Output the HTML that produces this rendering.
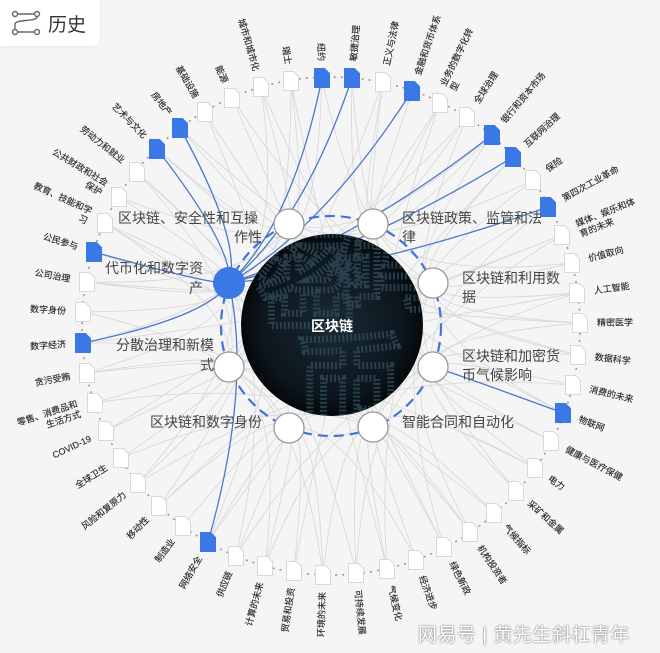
<!DOCTYPE html>
<html><head><meta charset="utf-8">
<style>
html,body{margin:0;padding:0;background:#f5f5f6;}
body{width:660px;height:653px;overflow:hidden;position:relative;font-family:"Liberation Sans","Noto Sans CJK SC",sans-serif;}
#hdr{position:absolute;left:0;top:0;width:100px;height:46px;background:#fff;border-radius:0 0 8px 0;box-shadow:0 1px 3px rgba(0,0,0,.06);}
#hdr span{position:absolute;left:48px;top:10px;font-size:19px;color:#333;}
#wm{position:absolute;left:418px;top:620px;font-size:19px;color:#fff;text-shadow:0 0 2px #888,0 0 1px #666;letter-spacing:0.5px;}
</style></head><body>
<svg id="s" width="660" height="653" style="position:absolute;left:0;top:0">
<defs>
<radialGradient id="dg" cx="50%" cy="50%" r="50%">
<stop offset="0" stop-color="#1a2a35"/><stop offset="0.8" stop-color="#0c151c"/><stop offset="1" stop-color="#04080a"/>
</radialGradient>
<clipPath id="cp"><circle cx="332" cy="325" r="91"/></clipPath>
</defs>
<g id="edges"></g>
<circle cx="331" cy="326" r="249" fill="none" stroke="#999" stroke-width="1.6" stroke-dasharray="2 5"/>
<g id="docs"></g>
<g id="labels" font-size="9" fill="#2a2a2a" stroke="#2a2a2a" stroke-width="0.15"></g>
<circle cx="332" cy="325" r="91" fill="url(#dg)"/>
<g clip-path="url(#cp)" fill="none" stroke="#34505f" stroke-width="7" stroke-dasharray="2 2" opacity="0.7" font-size="110" font-weight="bold">
<text x="255" y="320">密</text><text x="335" y="300">码</text><text x="295" y="425">币</text>
</g>
<text x="332" y="331" fill="#fff" font-size="14" font-weight="bold" text-anchor="middle">区块链</text>
<circle cx="331" cy="326" r="110" fill="none" stroke="#3f74d8" stroke-width="2.2" stroke-dasharray="10 6"/>
<g id="nodes"></g>
<g font-size="14" fill="#444">
<text x="118" y="223">区块链、安全性和互操</text><text x="262" y="242" text-anchor="end">作性</text>
<text x="402" y="223">区块链政策、监管和法</text><text x="402" y="242">律</text>
<text x="462" y="283">区块链和利用数</text><text x="462" y="302">据</text>
<text x="462" y="361">区块链和加密货</text><text x="462" y="380">币气候影响</text>
<text x="402" y="427">智能合同和自动化</text>
<text x="262" y="427" text-anchor="end">区块链和数字身份</text>
<text x="214" y="350" text-anchor="end">分散治理和新模</text><text x="214" y="370" text-anchor="end">式</text>
<text x="203" y="273" text-anchor="end">代币化和数字资</text><text x="203" y="293" text-anchor="end">产</text>
</g>
</svg>
<div id="hdr">
<svg width="40" height="30" style="position:absolute;left:10px;top:9px" fill="none" stroke="#666" stroke-width="1.4">
<circle cx="5" cy="5" r="2.5"/><circle cx="27" cy="5" r="2.5"/><circle cx="5" cy="23" r="2.5"/><circle cx="27" cy="23" r="2.5"/>
<path d="M8 5h16M8 23h16M27 8c0 5-22 2-22 7v5"/>
</svg>
<span>历史</span>
</div>
<div id="wm">网易号 | 黄先生斜杠青年</div>
<script>
var C=[331,326];
var D=[
["纽约",322,78,1],["敏捷治理",352,78,1],["正义与法律",383,82],["金融和货币体系",412,91,1],["业务的数字化转\n型",440,103],["全球治理",467,117],["银行和资本市场",492,135,1],["互联网治理",513,157,1],["保险",533,180],["第四次工业革命",548,207,1],["媒体、娱乐和体\n育的未来",562,235],["价值取向",572,263],["人工智能",577,293],["精密医学",580,323],["数据科学",578,355],["消费的未来",573,385],["物联网",563,413,1],["健康与医疗保健",551,441],["电力",535,468],["采矿和金属",516,491],["气候指标",494,513],["机构投资者",470,532],["绿色新政",444,547],["经济进步",416,560],["气候变化",387,569],["可持续发展",356,573],["环境的未来",323,575],["贸易和投资",294,571],["计算的未来",265,566],["供应链",236,556],["网络安全",208,542,1],["制造业",183,526],["移动性",159,506],["风险和复原力",138,483],["全球卫生",121,458],["COVID-19",106,431],["零售、消费品和\n生活方式",95,403],["贪污受贿",87,373],["数字经济",83,343,1],["数字身份",83,312],["公司治理",87,282],["公民参与",94,252,1],["教育、技能和学\n习",105,223],["公共财政和社会\n保护",119,197],["劳动力和就业",137,172],["艺术与文化",157,149,1],["房地产",180,128,1],["基础设施",205,112],["能源",232,98],["城市和城市化",261,87],["瑞士",291,81]];
var N=[[289,224],[373,224],[433,283],[433,367],[373,427],[289,428],[229,367],[229,283]];
var NS="http://www.w3.org/2000/svg";
function el(t,a,p){var e=document.createElementNS(NS,t);for(var k in a)e.setAttribute(k,a[k]);p.appendChild(e);return e;}
var E=document.getElementById("edges"),DG=document.getElementById("docs"),L=document.getElementById("labels"),NG=document.getElementById("nodes");
function curve(a,b,col,w,k){var mx=(a[0]+b[0])/2,my=(a[1]+b[1])/2;var cx=mx+(C[0]-mx)*k,cy=my+(C[1]-my)*k;
el("path",{d:"M"+a[0]+" "+a[1]+"Q"+cx+" "+cy+" "+b[0]+" "+b[1],fill:"none",stroke:col,"stroke-width":w},E);}
D.forEach(function(d,i){
 var p=[d[1],d[2]];
 var best=0,bd=1e9;N.forEach(function(n,j){var q=(n[0]-p[0])*(n[0]-p[0])+(n[1]-p[1])*(n[1]-p[1]);if(q<bd){bd=q;best=j;}});
 var set={};set[best]=1;set[(i*3)%8]=1;set[(i*5+2)%8]=1;
 for(var j in set){if(d[3]&&j==7)continue;curve(p,N[j],"#d9d9db",0.9,0.45);}
});
D.forEach(function(d){if(d[3]){var t=(d[0]=="物联网")?N[3]:N[7];curve([d[1],d[2]],t,"#4a78cc",1.3,0.3);}});
D.forEach(function(d){
 var x=d[1],y=d[2];
 el("path",{d:"M"+(x-7.5)+" "+(y-9.5)+"h10l5 5v14h-15z",fill:d[3]?"#3a78e6":"#fff",stroke:d[3]?"#3a78e6":"#d8d8d8","stroke-width":1,"stroke-linejoin":"round"},DG);
 var dx=x-C[0],dy=y-C[1],r=Math.sqrt(dx*dx+dy*dy),ux=dx/r,uy=dy/r;
 var ang=Math.atan2(dy,dx)*180/Math.PI;
 var lx=x+ux*17,ly=y+uy*17,rot,anc;
 if(ux>=0.02){rot=ang;anc="start";}else{rot=ang+180;anc="end";}
 var g=el("g",{transform:"translate("+lx+","+ly+") rotate("+rot+")"},L);
 var lines=d[0].split("\n");
 var t=el("text",{"text-anchor":anc,y:3-(lines.length-1)*5},g);
 lines.forEach(function(s,k){var ts=el("tspan",{x:0,dy:k?11:0},t);ts.textContent=s;});
});
N.forEach(function(n,i){
 if(i==7)el("circle",{cx:n[0],cy:n[1],r:16,fill:"#3a78e6"},NG);
 else el("circle",{cx:n[0],cy:n[1],r:15,fill:"#fff",stroke:"#999","stroke-width":1.3},NG);
});
</script>
</body></html>
